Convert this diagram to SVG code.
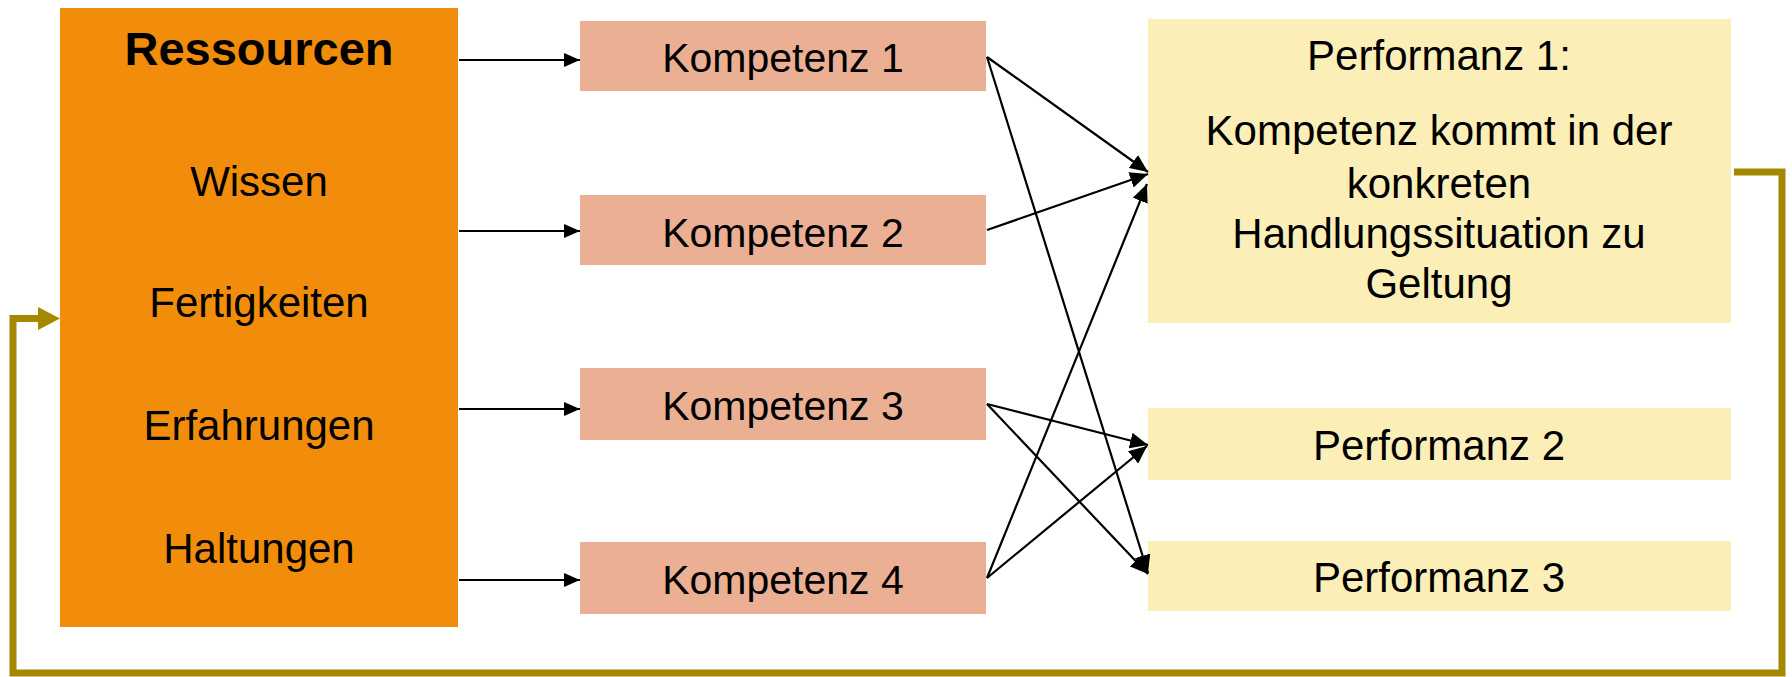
<svg xmlns="http://www.w3.org/2000/svg" width="1792" height="677" viewBox="0 0 1792 677">
<defs>
<style>
text{font-family:"Liberation Sans",Arial,sans-serif;fill:#000;text-anchor:middle}
.res{fill:#F18D0A}
.komp{fill:#EBB094}
.perf{fill:#FBEEB6}
.t42{font-size:42px}
.t41{font-size:41px}
.bold{font-size:47px;font-weight:bold}
.arr{stroke:#000;stroke-width:2.2;fill:none}
.arrl{stroke:#000;stroke-width:2.2;fill:none;marker-end:url(#ah)}
.arrx{stroke:#000;stroke-width:2.2;fill:none;marker-end:url(#ah2)}
.fb{stroke:#A38800;stroke-width:7;fill:none}
</style>
<marker id="ah" markerUnits="userSpaceOnUse" markerWidth="16" markerHeight="14" refX="16" refY="7" orient="auto">
<path d="M0,0 L16,7 L0,14 z" fill="#000"/>
</marker>
<marker id="ah2" markerUnits="userSpaceOnUse" markerWidth="18" markerHeight="16" refX="18" refY="8" orient="auto">
<path d="M0,0 L18,8 L0,16 z" fill="#000"/>
</marker>
</defs>
<rect width="1792" height="677" fill="#fff"/>

<g id="ressourcen">
<rect class="res" x="60" y="8" width="398" height="619"/>
<text class="bold" x="259" y="65">Ressourcen</text>
<text class="t42" x="259" y="196">Wissen</text>
<text class="t42" x="259" y="317">Fertigkeiten</text>
<text class="t42" x="259" y="440">Erfahrungen</text>
<text class="t42" x="259" y="563">Haltungen</text>
</g>

<g id="kompetenz1">
<rect class="komp" x="580" y="21" width="406" height="70"/>
<text class="t41" x="783" y="72">Kompetenz 1</text>
</g>
<g id="kompetenz2">
<rect class="komp" x="580" y="195" width="406" height="70"/>
<text class="t41" x="783" y="247">Kompetenz 2</text>
</g>
<g id="kompetenz3">
<rect class="komp" x="580" y="368" width="406" height="72"/>
<text class="t41" x="783" y="420">Kompetenz 3</text>
</g>
<g id="kompetenz4">
<rect class="komp" x="580" y="542" width="406" height="72"/>
<text class="t41" x="783" y="594">Kompetenz 4</text>
</g>

<g id="performanz1">
<rect class="perf" x="1148" y="19" width="583" height="304"/>
<text class="t42" x="1439" y="70">Performanz 1:</text>
<text class="t42" x="1439" y="145">Kompetenz kommt in der</text>
<text class="t42" x="1439" y="198">konkreten</text>
<text class="t42" x="1439" y="248">Handlungssituation zu</text>
<text class="t42" x="1439" y="298">Geltung</text>
</g>
<g id="performanz2">
<rect class="perf" x="1148" y="408" width="583" height="72"/>
<text class="t42" x="1439" y="460">Performanz 2</text>
</g>
<g id="performanz3">
<rect class="perf" x="1148" y="541" width="583" height="70"/>
<text class="t42" x="1439" y="592">Performanz 3</text>
</g>

<g id="connectors">
<line class="arrl" x1="459" y1="60" x2="580" y2="60"/>
<line class="arrl" x1="459" y1="231" x2="580" y2="231"/>
<line class="arrl" x1="459" y1="409" x2="580" y2="409"/>
<line class="arrl" x1="459" y1="580" x2="580" y2="580"/>

<line class="arrx" x1="987" y1="57" x2="1148" y2="172"/>
<line class="arrx" x1="987" y1="57" x2="1148" y2="573"/>
<line class="arrx" x1="987" y1="230" x2="1148" y2="174"/>
<line class="arrx" x1="987" y1="404" x2="1148" y2="445"/>
<line class="arrx" x1="987" y1="404" x2="1148" y2="574"/>
<line class="arrx" x1="987" y1="578" x2="1147" y2="184"/>
<line class="arrx" x1="987" y1="578" x2="1147" y2="446"/>

<path class="fb" d="M1734 172 H1782 V673 H13 V318.5 H40"/>
<polygon points="38,307 60,318.5 38,330" fill="#A38800"/>
</g>
</svg>
